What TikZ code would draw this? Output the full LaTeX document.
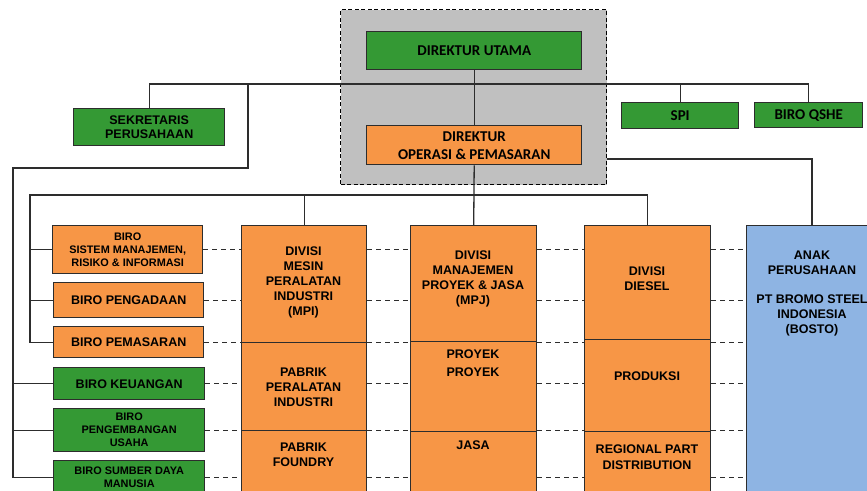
\documentclass[tikz,border=0pt]{standalone}
\usepackage{fontspec}
\setmainfont{Liberation Sans}
\newfontfamily\calfont{Carlito}
\definecolor{cgreen}{RGB}{52,153,52}
\definecolor{corange}{RGB}{247,150,70}
\definecolor{cblue}{RGB}{142,180,227}
\definecolor{cgray}{RGB}{192,192,192}
\definecolor{cline}{RGB}{45,45,45}
\begin{document}
\begin{tikzpicture}[x=1pt,y=-1pt,
  box/.style={draw=cline, line width=1.4pt, anchor=north west, inner sep=0pt, align=center, text=black},
  gbox/.style={box, fill=cgreen},
  obox/.style={box, fill=corange},
  calf/.style={font=\calfont\bfseries\fontsize{15}{18}\selectfont},
  arf/.style={font=\bfseries\fontsize{12.5}{14.5}\selectfont},
  smf/.style={font=\bfseries\fontsize{10.9}{13}\selectfont},
  colf/.style={font=\bfseries\fontsize{12.5}{15}\selectfont, align=center, text=black},
  conn/.style={draw=cline, line width=1.3pt},
  dl/.style={draw=cline, line width=1.2pt, dash pattern=on 5pt off 4pt},
]
\useasboundingbox (0,0) rectangle (867,490);
\clip (0,0) rectangle (867,490);
\fill[white] (0,0) rectangle (867,490);

% grey group
\node[draw=black, line width=1.4pt, dash pattern=on 4pt off 2.5pt, fill=cgray, anchor=north west,
      minimum width=266pt, minimum height=175pt, inner sep=0pt] (grp) at (340,9) {};

% top boxes
\node[gbox, calf, minimum width=215pt, minimum height=38pt] (du) at (366,31) {DIREKTUR UTAMA};
\node[obox, calf, minimum width=215pt, minimum height=39pt] (do) at (366,125) {DIREKTUR\\OPERASI \& PEMASARAN};
\node[gbox, arf, minimum width=151pt, minimum height=37pt] (sek) at (73,108) {SEKRETARIS\\PERUSAHAAN};
\node[gbox, calf, minimum width=117pt, minimum height=26pt] (spi) at (621,102) {SPI};
\node[gbox, calf, minimum width=108pt, minimum height=25pt] (qshe) at (754,102) {BIRO QSHE};

% biro boxes
\node[obox, smf, minimum width=150pt, minimum height=48pt] (bsm) at (52,225) {BIRO\\SISTEM MANAJEMEN,\\RISIKO \& INFORMASI};
\node[obox, arf, minimum width=150pt, minimum height=35pt] (bpg) at (53,282) {BIRO PENGADAAN};
\node[obox, arf, minimum width=150pt, minimum height=31pt] (bpm) at (53,326) {BIRO PEMASARAN};
\node[gbox, arf, minimum width=151pt, minimum height=32pt] (bku) at (53,367) {BIRO KEUANGAN};
\node[gbox, smf, minimum width=151pt, minimum height=43pt] (bpu) at (53,408) {BIRO\\PENGEMBANGAN\\USAHA};
\node[gbox, smf, minimum width=151pt, minimum height=34pt] (bsd) at (53,460) {BIRO SUMBER DAYA\\MANUSIA};

% columns
\node[obox, minimum width=125pt, minimum height=117pt] (mpi1) at (241,225) {};
\node[obox, minimum width=125pt, minimum height=88pt] (mpi2) at (241,342) {};
\node[obox, minimum width=125pt, minimum height=80pt] (mpi3) at (241,430) {};
\node[obox, minimum width=126pt, minimum height=116pt] (mpj1) at (410,225) {};
\node[obox, minimum width=126pt, minimum height=90pt] (mpj2) at (410,341) {};
\node[obox, minimum width=126pt, minimum height=80pt] (mpj3) at (410,431) {};
\node[obox, minimum width=126pt, minimum height=114pt] (dsl1) at (584,225) {};
\node[obox, minimum width=126pt, minimum height=92pt] (dsl2) at (584,339) {};
\node[obox, minimum width=126pt, minimum height=80pt] (dsl3) at (584,431) {};
\node[box, fill=cblue, minimum width=135pt, minimum height=290pt] (anak) at (746,225) {};

% column texts
\node[colf] (tmpi1) at (303.5,282) {DIVISI\\MESIN\\PERALATAN\\INDUSTRI\\(MPI)};
\node[colf] (tmpi2) at (303.5,387) {PABRIK\\PERALATAN\\INDUSTRI};
\node[colf] (tmpi3) at (303.5,455) {PABRIK\\FOUNDRY};
\node[colf] (tmpj1) at (473,278.5) {DIVISI\\MANAJEMEN\\PROYEK \& JASA\\(MPJ)};
\node[colf, font=\bfseries\fontsize{12.5}{18}\selectfont] (tmpj2) at (473,363) {PROYEK\\PROYEK};
\node[colf] (tmpj3) at (473,445) {JASA};
\node[colf] (tdsl1) at (647,278.5) {DIVISI\\DIESEL};
\node[colf] (tdsl2) at (647,376) {PRODUKSI};
\node[colf, font=\bfseries\fontsize{12.5}{16}\selectfont] (tdsl3) at (647,457) {REGIONAL PART\\DISTRIBUTION};
\node[colf] (tanak) at (812,293.5) {ANAK\\PERUSAHAAN\\[14pt]PT BROMO STEEL\\INDONESIA\\(BOSTO)};

% connectors top
\coordinate (bus1) at (473,84);
\coordinate (bus2) at (473,195);
\coordinate (lb) at (248,168);
\coordinate (lc) at (13,168);
\coordinate (lb2) at (30,195);
\coordinate (ar) at (812,159);

\draw[conn] (du.south) -- (do.north);
\draw[conn] (sek.north) -- (sek.north |- bus1) -- (qshe.north |- bus1) -- (qshe.north);
\draw[conn] (spi.north) -- (spi.north |- bus1);
\draw[conn] (lb |- bus1) -- (lb) -- (lc) -- (lc |- bsd.west) -- (bsd.west);
\draw[conn] (bku.west -| lc) -- (bku.west);
\draw[conn] (bpu.west -| lc) -- (bpu.west);

\draw[conn] (do.south) -- (mpj1.north);
\draw[conn] (dsl1.north) -- (dsl1.north |- bus2) -- (lb2) -- (lb2 |- bpm.west) -- (bpm.west);
\draw[conn] (mpi1.north) -- (mpi1.north |- bus2);
\draw[conn] (bsm.west -| lb2) -- (bsm.west);
\draw[conn] (bpg.west -| lb2) -- (bpg.west);
\draw[conn] (grp.east |- ar) -- (ar) -- (ar |- anak.north);

% dashed links
\foreach \r in {bsm,bpg,bpm,bku,bpu,bsd}{
  \draw[dl] (\r.east) -- (\r.east -| mpi1.west);
  \draw[dl] (\r.east -| mpi1.east) -- (\r.east -| mpj1.west);
  \draw[dl] (\r.east -| mpj1.east) -- (\r.east -| dsl1.west);
  \draw[dl] (\r.east -| dsl1.east) -- (\r.east -| anak.west);
}
\end{tikzpicture}
\end{document}
